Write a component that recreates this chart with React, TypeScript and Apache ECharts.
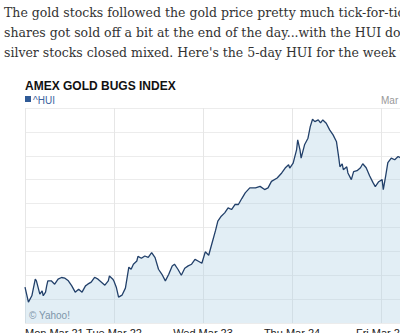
import React, { useEffect, useRef } from "react";
import * as echarts from "echarts";

const dayLabels = ["Mon Mar 21", "Tue Mar 22", "Wed Mar 23", "Thu Mar 24", "Fri Mar 25"];

// trading minutes since Monday open (390 minutes per session)
const minutes = [
  0, 15, 30, 45, 50, 65, 75, 80, 90, 95, 100, 115, 130, 145, 160, 175, 190, 205, 220, 235,
  250, 265, 275, 290, 305, 320, 335, 350, 365, 370, 385, 390, 400, 410, 425, 440, 455, 465, 475, 490,
  495, 510, 525, 540, 555, 570, 585, 600, 615, 630, 645, 655, 670, 685, 700, 715, 730, 745, 760, 775,
  790, 805, 820, 835, 845, 860, 875, 890, 905, 920, 935, 950, 965, 985, 1010, 1030, 1050, 1065, 1080, 1105,
  1125, 1140, 1155, 1160, 1175, 1190, 1195, 1205, 1210, 1225, 1240, 1250, 1260, 1270, 1285, 1295, 1305, 1320, 1335, 1350,
  1365, 1375, 1380, 1390, 1395, 1410, 1415, 1430, 1440, 1455, 1470, 1480, 1495, 1510, 1525, 1535, 1550, 1565, 1570, 1580,
  1590, 1605, 1620, 1635, 1645, 1655,
];

// ^HUI index level
const values = [
  559.0, 557.75, 558.28, 559.67, 559.53, 558.42, 558.69, 558.28, 558.58, 559.11, 559.53, 559.53, 559.25, 559.67, 559.81, 559.75, 559.53, 559.11, 558.58, 558.83,
  558.58, 559.11, 559.25, 559.42, 559.83, 559.67, 559.42, 559.17, 559.53, 559.94, 559.67, 559.5, 559.0, 558.17, 558.33, 558.92, 560.67, 560.5, 560.92, 561.19,
  561.58, 561.42, 561.61, 561.5, 561.89, 561.47, 560.5, 560.08, 559.53, 560.08, 560.78, 560.92, 560.5, 560.0, 560.58, 560.78, 560.92, 561.33, 561.17, 561.0,
  561.96, 561.67, 562.72, 563.75, 564.53, 564.94, 565.22, 565.64, 565.5, 565.92, 565.92, 566.42, 566.89, 567.31, 567.31, 567.44, 567.17, 567.31, 567.86, 568.14,
  568.56, 568.97, 569.25, 568.97, 569.39, 570.5, 571.33, 570.5, 569.81, 570.92, 571.47, 572.44, 573.06, 572.86, 573.0, 572.75, 573.0, 572.72, 572.17, 571.75,
  571.17, 569.83, 569.08, 569.33, 568.83, 569.08, 568.56, 568.0, 568.67, 568.75, 569.0, 569.33, 569.0, 568.33, 567.75, 567.42, 567.83, 568.0, 567.17, 568.25,
  569.42, 569.81, 569.67, 569.94, 569.83, 569.67,
];

const paragraph = [
  "The gold stocks followed the gold price pretty much tick-for-tick all day long",
  "shares got sold off a bit at the end of the day...with the HUI down from its high",
  "silver stocks closed mixed. Here's the 5-day HUI for the week that was.",
];

export default function App() {
  const ref = useRef<HTMLDivElement>(null);

  useEffect(() => {
    if (!ref.current) return;
    const chart = echarts.init(ref.current, undefined, { renderer: "svg" });
    chart.setOption({
      animation: false,
      grid: { left: 25, top: 108, width: 445, height: 215, containLabel: false, outerBoundsMode: "none" },
      xAxis: {
        type: "value",
        min: 0,
        max: 1950,
        interval: 390,
        axisLine: { show: false },
        axisTick: { show: false },
        splitLine: { show: true, lineStyle: { color: "#e6e6e6", width: 1 } },
        axisLabel: {
          formatter: (v: number) => dayLabels[Math.round(v / 390)] ?? "",
          color: "#222",
          fontSize: 11,
          fontFamily: "Liberation Sans, Arial, sans-serif",
          margin: 4,
          alignMinLabel: "left",
          showMaxLabel: false,
        },
      },
      yAxis: {
        type: "value",
        min: 556,
        max: 574,
        interval: 2,
        position: "right",
        axisLabel: { show: false },
        axisLine: { show: false },
        axisTick: { show: false },
        splitLine: { show: true, lineStyle: { color: "#ececec", width: 1 } },
      },
      series: [
        {
          type: "line",
          data: minutes.map((m, i) => [m, values[i]]),
          showSymbol: false,
          lineStyle: { color: "#22406a", width: 1.3 },
          areaStyle: { color: "rgba(173,205,227,0.5)", origin: "start" },
        },
      ],
      graphic: [
        {
          type: "text",
          left: 25,
          top: 80,
          style: {
            text: "AMEX GOLD BUGS INDEX",
            font: "bold 12px 'Liberation Sans', Arial, sans-serif",
            fill: "#111",
          },
        },
        { type: "rect", shape: { x: 25, y: 96, width: 6, height: 6 }, style: { fill: "#2f5a96" } },
        {
          type: "text",
          left: 33,
          top: 95,
          style: { text: "^HUI", font: "10px 'Liberation Sans', Arial, sans-serif", fill: "#3c64a0" },
        },
        {
          type: "text",
          left: 381,
          top: 95,
          style: { text: "Mar 25, 2011", font: "10px 'Liberation Sans', Arial, sans-serif", fill: "#999" },
        },
        {
          type: "text",
          left: 29,
          top: 310,
          style: { text: "© Yahoo!", font: "10px 'Liberation Sans', Arial, sans-serif", fill: "#66778a" },
        },
      ],
    });
    return () => chart.dispose();
  }, []);

  return (
    <div
      style={{
        position: "fixed",
        left: 0,
        top: 0,
        width: 400,
        height: 333,
        overflow: "hidden",
        background: "#fff",
      }}
    >
      <div ref={ref} style={{ position: "absolute", left: 0, top: 0, width: 480, height: 333 }} />
      <div
        style={{
          position: "absolute",
          left: 4,
          top: 3,
          fontFamily: "'DejaVu Serif', Georgia, serif",
          fontSize: 12.5,
          lineHeight: "20px",
          color: "#333",
          whiteSpace: "nowrap",
        }}
      >
        {paragraph.map((l, i) => (
          <div key={i}>{l}</div>
        ))}
      </div>
    </div>
  );
}
